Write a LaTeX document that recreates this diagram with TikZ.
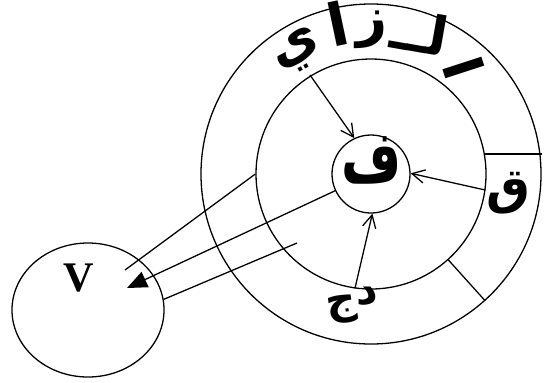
\documentclass[tikz,border=0pt]{standalone}
\usepackage{fontspec}
\usepackage{tikz}
\usetikzlibrary{arrows.meta,shapes.geometric}
\TeXXeTstate=1
\newfontfamily\arabicfont[Script=Arabic]{DejaVu Sans}
\newfontfamily\vfont{Liberation Serif}

\begin{document}
\begin{tikzpicture}[x=0.03cm,y=-0.03cm,line width=1.1pt,
    ring/.style={circle,draw,inner sep=0pt},
    feed/.style={-{Straight Barb[length=3.8mm,width=4mm,line width=1.1pt]}},
    ar/.style={font=\arabicfont\bfseries\fontsize{#1}{#1}\selectfont,inner sep=0pt},
    ar/.default=36]
  \useasboundingbox (0,0) rectangle (544,382);
  \node[ring,minimum size=10.2cm] (outer) at (371,174) {};
  \node[ring,minimum size=6.9cm] (inner) at (371,174) {};
  \node[ring,minimum size=2.34cm] (core) at (371,174) {};
  \node[ellipse,draw,minimum width=4.56cm,minimum height=4.02cm] (vcirc) at (88,310) {};

  % letters
  \node[ar=52,xscale=0.85,yscale=1.2] (feh) at (372,160) {\beginR ف\endR};
  \node[font=\vfont\bfseries\fontsize{36}{36}\selectfont] (vlab) at (79,278) {V};
  \node[ar=46,rotate=-72] (alef1) at (464,68) {\beginR ا\endR};
  \node[ar=46,rotate=-10] (lam) at (420,32) {\beginR لــ\endR};
  \node[ar=46] (zay) at (372,30) {\beginR ز\endR};
  \node[ar=50,rotate=12] (alef2) at (338,24) {\beginR ا\endR};
  \node[ar=46,rotate=28] (yaa) at (298,52) {\beginR ي\endR};
  \node[ar=42] (qaf) at (508,193) {\beginR ق\endR};
  \node[ar=36] (dal) at (367,296) {\beginR د\endR};
  \node[ar=36,rotate=8] (jim) at (342,310) {\beginR ج\endR};

  % ring dividers
  \draw (inner.10.5) -- (inner.10.5 -| outer.east);
  \draw (inner.-48.5) -- (outer.-48.5);

  % inputs to the core
  \coordinate (yfoot) at (310,75);
  \draw[feed] (yfoot) -- (core.115);
  \draw[feed] (inner.-8) -- (core.1);
  \draw[feed] (inner.-98) -- (core.-88);

  % links to V
  \coordinate (vin) at (125,270);
  \coordinate (vtip) at (127,288);
  \coordinate (midend) at (297,243);
  \draw (vin) -- (inner.180);
  \draw[-{Triangle[length=6mm,width=5mm]}] (core.205) -- (vtip);
  \draw (vcirc.8) -- (midend);
\end{tikzpicture}
\end{document}
